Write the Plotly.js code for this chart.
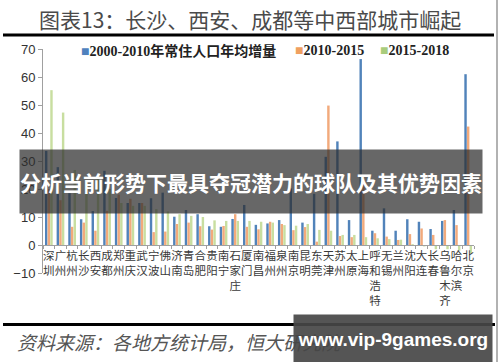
<!DOCTYPE html>
<html>
<head>
<meta charset="utf-8">
<script src="https://cdn.plot.ly/plotly-3.0.1.min.js"></script>
<style>html,body{margin:0;padding:0;background:#fff;}#chart{width:500px;height:362px;}</style>
</head>
<body>
<div id="chart"></div>
<script>
const cities = ['深圳','广州','杭州','长沙','西安','成都','郑州','重庆','武汉','宁波','佛山','济南','青岛','合肥','贵阳','南宁','石家庄','厦门','南昌','福州','泉州','南京','昆明','东莞','天津','苏州','太原','上海','呼和浩特','无锡','兰州','沈阳','大连','长春','乌鲁木齐','哈尔滨','北京'];
const growth2000_2010 = [33.6,27.8,18.5,9.2,12.1,26.5,16.8,15,15,16.7,18.7,10.1,12.5,11,6.7,6.5,9.3,14.3,7.2,7.7,8.9,20.2,8,18.3,31.5,37,8.9,66.4,5.1,13.1,5.1,9.2,8.3,5.7,8.6,12.5,61];
const growth2010_2015 = [20,16,6.5,8,5.1,12.2,18,16.5,15,4.6,4.8,7.5,8,6.7,5.5,6.8,11,6.5,5.6,8.3,7.5,5.3,6.4,1.2,49.8,3.2,2.8,22.6,4.2,3,1.8,3.9,5.9,3.6,8.9,7.1,42.3];
const growth2015_2018 = [55.3,47.3,26.8,22,24,20,15,14,14,12.8,12,11,10.4,10,8.8,8.6,8.6,8.6,8.3,8,7.1,6.9,7.5,5.4,5.1,3.6,3.6,2.8,2.4,2.1,1.9,0.3,-0.5,-1.5,-1.5,-2,-3];
const seriesNames = ['2000-2010年常住人口年均增量','2010-2015','2015-2018'];
const seriesColors = ['#5183ba','#f2aa7c','#c8dea0'];
const legendColors = ['#4f81bd','#f0a060','#a9cc7c'];
const yTicks = [-10,0,10,20,30,40,50,60,70];
const titleText = '图表13：长沙、西安、成都等中西部城市崛起';
const bannerText = '分析当前形势下最具夺冠潜力的球队及其优势因素';
const sourceText = '资料来源：各地方统计局，恒大研究院';
const watermarkText = 'www.vip-9games.org';

const W = 500, H = 362, L = 43, R = 26, T = 49, B = 89;
const pw = W - L - R, ph = H - T - B;
const px = v => (v - L) / pw;
const py = v => (H - B - v) / ph;

const values = [growth2000_2010, growth2010_2015, growth2015_2018];
const traces = values.map((vals, i) => ({
  type: 'bar', x: cities, y: vals, name: seriesNames[i],
  marker: {color: seriesColors[i]}, showlegend: false, hoverinfo: 'skip'
}));

const cjk = 'Noto Sans CJK SC';
const legendX = [79, 293, 378];
const annotations = [
  {xref:'paper', yref:'paper', x: px(250), y: py(19), xanchor:'center', yanchor:'middle', showarrow:false,
   text: titleText, font:{family: cjk, size: 21, color:'#4a4a4a'}},
];
seriesNames.forEach((n, i) => annotations.push({
  xref:'paper', yref:'paper', x: px(legendX[i]), y: py(51), xanchor:'left', yanchor:'middle', showarrow:false,
  text: '<span style="color:' + legendColors[i] + '">■</span><b>' + n + '</b>',
  font:{family: 'Liberation Serif, ' + cjk, size: 14, color:'#222'}
}));
annotations.push({
  xref:'paper', yref:'paper', x: px(19), y: py(149), xanchor:'left', yanchor:'top', showarrow:false,
  width: 462, height: 63, bgcolor:'rgba(45,45,45,0.72)', borderpad:0, valign:'middle', align:'center',
  text:'<b>' + bannerText + '</b>', font:{family: cjk, size: 21, color:'#fff'}
});
annotations.push({
  xref:'paper', yref:'paper', x: px(15), y: py(341), xanchor:'left', yanchor:'middle', showarrow:false,
  text:'<i>' + sourceText + '</i>', font:{family: cjk, size: 19, color:'#555'}
});
annotations.push({
  xref:'paper', yref:'paper', x: px(293), y: py(314), xanchor:'left', yanchor:'top', showarrow:false,
  width: 198, height: 48, bgcolor:'rgba(70,70,70,0.92)', borderpad:0, valign:'middle', align:'center',
  text:'<b>' + watermarkText + '</b>', font:{family:'Liberation Sans', size: 19, color:'#fff'}
});

const layout = {
  width: W, height: H, margin:{l:L, r:R, t:T, b:B},
  paper_bgcolor:'#fff', plot_bgcolor:'#fff',
  barmode:'group', bargap:0.32, bargroupgap:0.08,
  showlegend:false,
  xaxis:{type:'category', range:[-0.5, cities.length - 0.5], anchor:'free', position: 10/80,
    showline:true, linecolor:'#a0a0a0', linewidth:1, ticks:'outside', tickson:'boundaries', ticklen:3,
    tickcolor:'#a0a0a0', showgrid:false, zeroline:false, tickangle:0,
    tickvals: cities, ticktext: cities.map(c => c.split('').join('<br>')),
    tickfont:{family: cjk, size:11.5, color:'#3a3a3a'}},
  yaxis:{range:[-10,70], tickvals: yTicks, showline:true, linecolor:'#a0a0a0', linewidth:1,
    ticks:'outside', ticklen:4, tickcolor:'#a0a0a0', showgrid:false, zeroline:false,
    tickfont:{family:'Liberation Sans', size:13, color:'#333'}},
  shapes:[
    {type:'line', xref:'paper', yref:'paper', x0:px(3), x1:px(494), y0:py(35), y1:py(35), line:{color:'#000', width:3}},
    {type:'line', xref:'paper', yref:'paper', x0:px(3), x1:px(495), y0:py(324.5), y1:py(324.5), line:{color:'#000', width:3}},
    {type:'line', xref:'paper', yref:'paper', x0:px(497), x1:px(497), y0:py(0), y1:py(362), line:{color:'#999', width:1.5}}
  ],
  annotations: annotations
};
Plotly.newPlot('chart', traces, layout, {displayModeBar:false, staticPlot:true});
</script>
</body>
</html>
